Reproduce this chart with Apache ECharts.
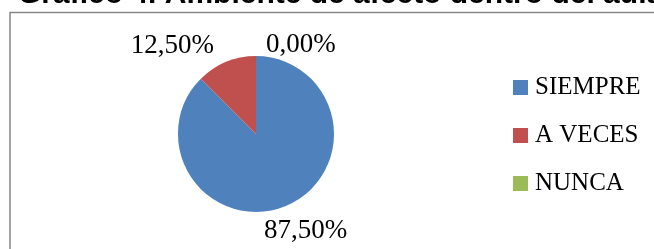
<!DOCTYPE html>
<html>
<head>
<meta charset="utf-8">
<script src="https://cdn.jsdelivr.net/npm/echarts@6/dist/echarts.min.js"></script>
<style>
html,body{margin:0;padding:0;background:#fff;}
#chart{width:654px;height:249px;}
</style>
</head>
<body>
<div id="chart"></div>
<script>
const titleText = 'Gráfico 4. Ambiente de afecto dentro del aula';
const categories = ['SIEMPRE', 'A VECES', 'NUNCA'];
const values = [87.5, 12.5, 0];
const colors = ['#4F81BD', '#C0504D', '#9BBB59'];
const labelOffsets = [[-30, 17], [-4, -9], [5, -3]];

const chart = echarts.init(document.getElementById('chart'), null, {renderer: 'canvas'});
chart.setOption({
  animation: false,
  backgroundColor: '#fff',
  color: colors,
  graphic: [
    {type: 'rect', z: 0, shape: {x: 10, y: 12.5, width: 700, height: 300},
     style: {fill: 'none', stroke: '#868686', lineWidth: 1.5}},
    {type: 'text', z: 10, x: 18, y: 10,
     style: {text: titleText, fill: '#000', font: 'bold 30px "Liberation Sans", Arial, sans-serif',
             verticalAlign: 'bottom', align: 'left'}}
  ],
  legend: {
    orient: 'vertical', left: 513, top: 75, padding: 0, itemGap: 23,
    itemWidth: 15, itemHeight: 15, icon: 'rect',
    data: categories,
    textStyle: {fontFamily: '"Liberation Serif", serif', fontSize: 25, color: '#000', padding: [0, 0, 0, 2]}
  },
  series: [{
    type: 'pie', center: [256, 134], radius: 78, startAngle: 90, clockwise: true,
    avoidLabelOverlap: false, silent: true,
    data: categories.map((c, i) => ({name: c, value: values[i]})),
    label: {
      show: true, position: 'outside', color: '#000',
      fontFamily: '"Liberation Serif", serif', fontSize: 27,
      formatter: p => p.value.toFixed(2).replace('.', ',') + '%'
    },
    labelLine: {show: false, length: 8, length2: 0},
    labelLayout: p => ({dx: labelOffsets[p.dataIndex][0], dy: labelOffsets[p.dataIndex][1]}),
    itemStyle: {borderWidth: 0}
  }]
});
</script>
</body>
</html>
